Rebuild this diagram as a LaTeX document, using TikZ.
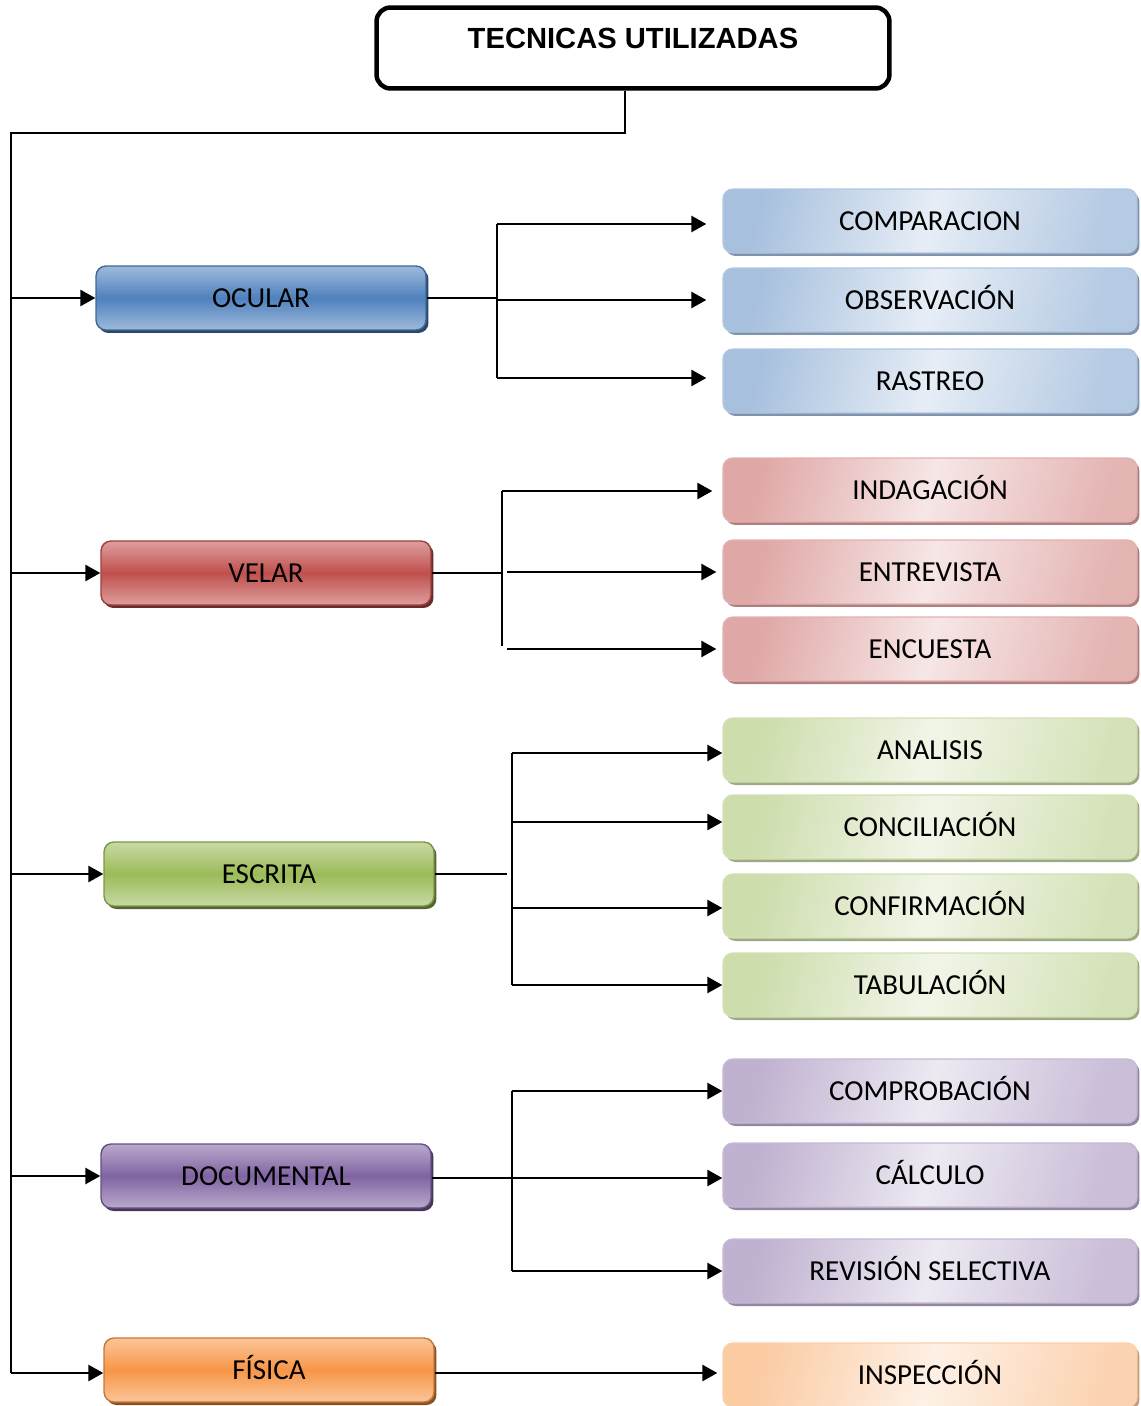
\documentclass[tikz,border=0pt]{standalone}
\usepackage{fontspec}
\setmainfont{Carlito}
\newfontfamily\titlefont{Liberation Sans}
\usetikzlibrary{arrows.meta,shadows,calc}
\definecolor{cblue}{HTML}{4F81BD}
\definecolor{cred}{HTML}{C0504D}
\definecolor{cgreen}{HTML}{9BBB59}
\definecolor{cpurple}{HTML}{8064A2}
\definecolor{corange}{HTML}{F79646}
\tikzset{
  leftbox/.style={rounded corners=0.2cm, minimum width=6.6cm, minimum height=1.28cm,
    draw=#1!80!black, line width=0.8pt,
    top color=#1!55!white, bottom color=#1!55!white, middle color=#1,
    drop shadow={shadow xshift=0.05cm, shadow yshift=-0.06cm, fill=#1!55!black, opacity=1},
    font=\fontsize{16.5}{18}\selectfont, text=black, inner sep=0pt,
    text height=10.6pt, text depth=0pt},
  rightbox/.style={rounded corners=0.2cm, minimum width=8.28cm, minimum height=1.28cm,
    draw=#1!45!white, line width=0.8pt,
    left color=#1!50!white, right color=#1!42!white, middle color=#1!14!white, shading angle=75,
    drop shadow={shadow xshift=0.05cm, shadow yshift=-0.06cm, fill=#1!45!gray!85!white, opacity=1},
    font=\fontsize{16.5}{18}\selectfont, text=black, inner sep=0pt,
    text height=10.6pt, text depth=0pt},
  conn/.style={line width=0.9pt, black},
  arr/.style={line width=1.5pt, black, -{Triangle[length=0.3cm,width=0.32cm]}},
}
\begin{document}
\begin{tikzpicture}[x=0.02cm,y=-0.02cm]
\useasboundingbox (0,0) rectangle (1141,1406);
% title
\node[draw, line width=0.09cm, rounded corners=0.28cm, minimum width=10.26cm, minimum height=1.62cm] (title) at (633,48) {};
\node[font=\titlefont\bfseries\fontsize{16.6}{20}\selectfont, inner sep=0pt] (titletext) at (633,38) {TECNICAS UTILIZADAS};
% left boxes
\node[leftbox=cblue] (ocular) at (261,298) {OCULAR};
\node[leftbox=cred] (velar) at (266,573) {VELAR};
\node[leftbox=cgreen] (escrita) at (269,874) {ESCRITA};
\node[leftbox=cpurple] (documental) at (266,1176) {DOCUMENTAL};
\node[leftbox=corange] (fisica) at (269,1370) {FÍSICA};
% right boxes
\node[rightbox=cblue] (comparacion) at (930,221) {COMPARACION};
\node[rightbox=cblue] (observacion) at (930,300) {OBSERVACIÓN};
\node[rightbox=cblue] (rastreo) at (930,381) {RASTREO};
\node[rightbox=cred] (indagacion) at (930,490) {INDAGACIÓN};
\node[rightbox=cred] (entrevista) at (930,572) {ENTREVISTA};
\node[rightbox=cred] (encuesta) at (930,649) {ENCUESTA};
\node[rightbox=cgreen] (analisis) at (930,750) {ANALISIS};
\node[rightbox=cgreen] (conciliacion) at (930,827) {CONCILIACIÓN};
\node[rightbox=cgreen] (confirmacion) at (930,906) {CONFIRMACIÓN};
\node[rightbox=cgreen] (tabulacion) at (930,985) {TABULACIÓN};
\node[rightbox=cpurple] (comprobacion) at (930,1091) {COMPROBACIÓN};
\node[rightbox=cpurple] (calculo) at (930,1175) {CÁLCULO};
\node[rightbox=cpurple] (revision) at (930,1271) {REVISIÓN SELECTIVA};
\node[rightbox=corange] (inspeccion) at (930,1375) {INSPECCIÓN};
% trunk
\coordinate (t0) at (625,91);
\coordinate (trunk) at (11,133);
\coordinate (tend) at (11,1373);
\draw[conn] (t0) -- (625,133) -- (trunk) -- (tend);
\draw[arr] (ocular.west -| trunk) -- (ocular.west);
\draw[arr] (velar.west -| trunk) -- (velar.west);
\draw[arr] (escrita.west -| trunk) -- (escrita.west);
\draw[arr] (documental.west -| trunk) -- (documental.west);
\draw[arr] (tend) -- (fisica.west |- tend);
% OCULAR branch
\coordinate (bo) at (497,298);
\draw[conn] (ocular.east) -- (bo);
\draw[conn] ($(bo |- comparacion)+(0,3)$) -- ($(bo |- rastreo)+(0,-3)$);
\draw[arr, shorten >=0.32cm] ($(bo |- comparacion)+(0,3)$) -- ($(comparacion.west)+(0,3)$);
\draw[arr, shorten >=0.32cm] (bo |- observacion) -- (observacion.west);
\draw[arr, shorten >=0.32cm] ($(bo |- rastreo)+(0,-3)$) -- ($(rastreo.west)+(0,-3)$);
% VELAR branch
\coordinate (bv) at (502,573);
\draw[conn] (velar.east) -- (bv);
\draw[conn] ($(bv |- indagacion)+(0,1)$) -- (502,646);
\draw[arr, shorten >=0.2cm] ($(bv |- indagacion)+(0,1)$) -- ($(indagacion.west)+(0,1)$);
\draw[arr, shorten >=0.12cm] ($(bv |- entrevista)+(5,0)$) -- (entrevista.west);
\draw[arr, shorten >=0.12cm] ($(bv |- encuesta)+(5,0)$) -- (encuesta.west);
% ESCRITA branch
\coordinate (be) at (512,874);
\draw[conn] (escrita.east) -- ($(be)+(-5,0)$);
\draw[conn] ($(be |- analisis)+(0,3)$) -- (be |- tabulacion);
\draw[arr] ($(be |- analisis)+(0,3)$) -- ($(analisis.west)+(0,3)$);
\draw[arr] ($(be |- conciliacion)+(0,-5)$) -- ($(conciliacion.west)+(0,-5)$);
\draw[arr] ($(be |- confirmacion)+(0,2)$) -- ($(confirmacion.west)+(0,2)$);
\draw[arr] (be |- tabulacion) -- (tabulacion.west);
% DOCUMENTAL branch
\coordinate (bd) at (512,1178);
\draw[conn] (documental.east |- bd) -- (bd);
\draw[conn] (bd |- comprobacion) -- (bd |- revision);
\draw[arr] (bd |- comprobacion) -- (comprobacion.west);
\draw[arr] (bd) -- (calculo.west |- bd);
\draw[arr] (bd |- revision) -- (revision.west);
% FISICA branch
\draw[arr, shorten >=0.1cm] (fisica.east |- tend) -- (inspeccion.west |- tend);
\end{tikzpicture}
\end{document}
